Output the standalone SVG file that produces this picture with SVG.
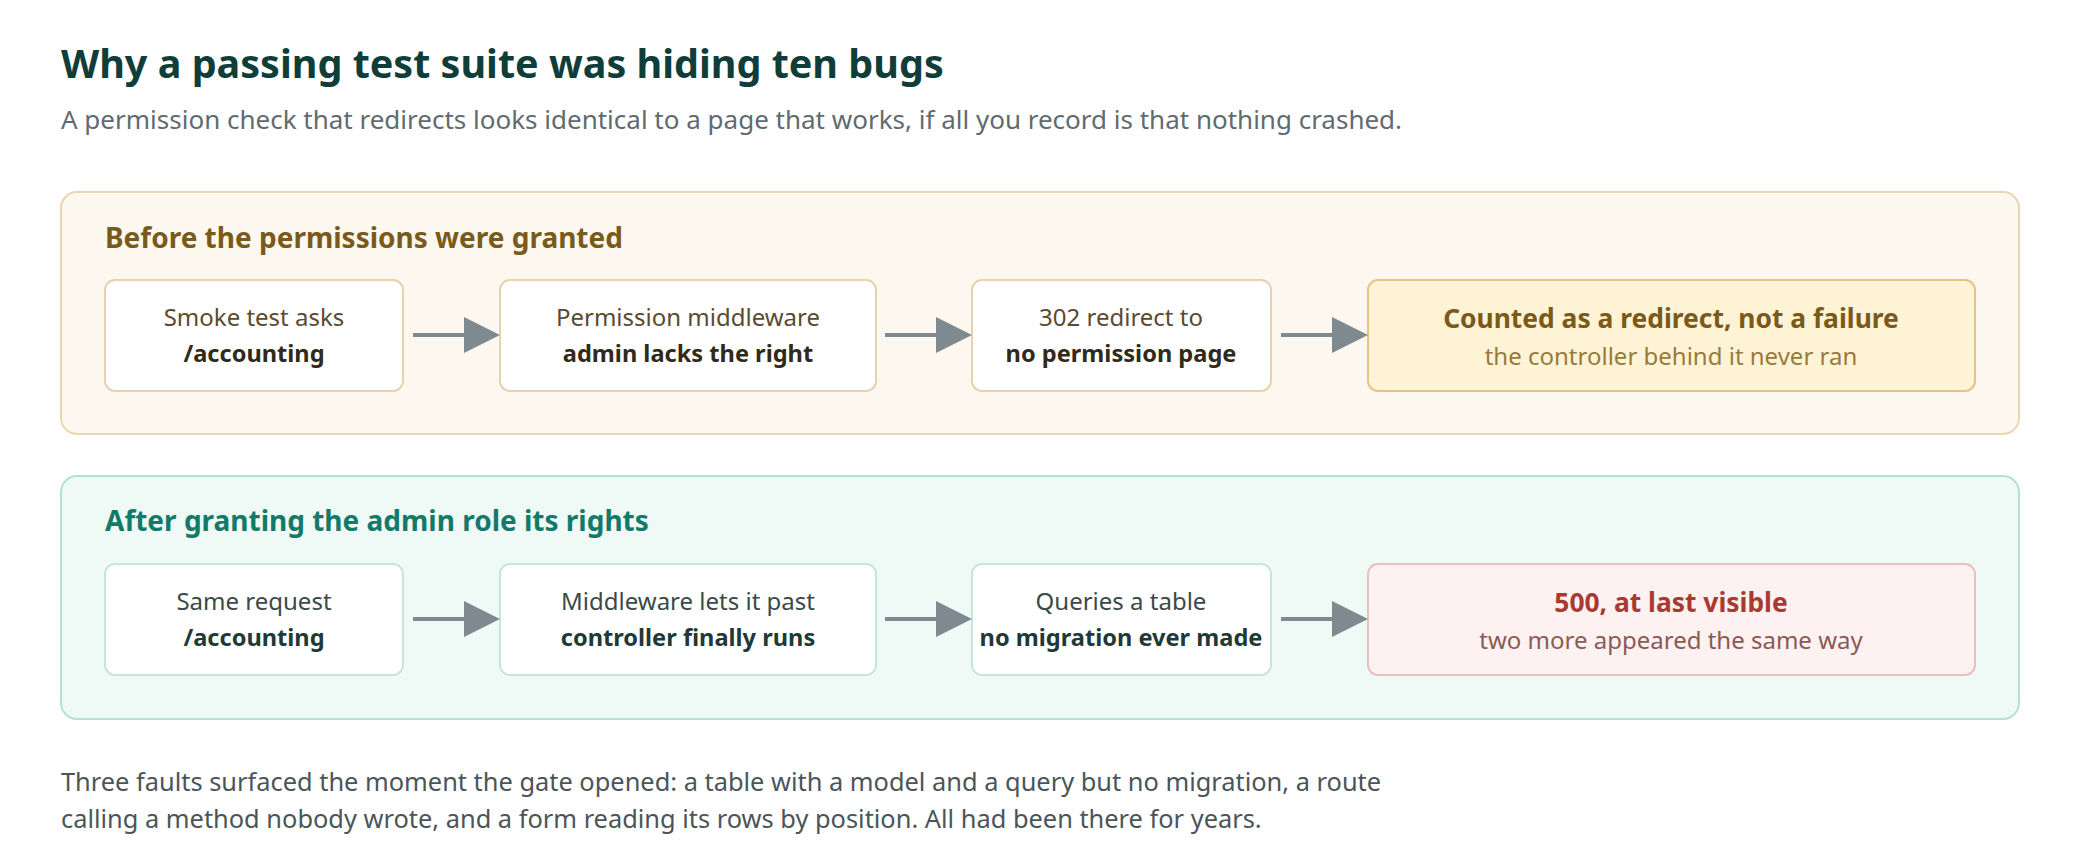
<svg xmlns="http://www.w3.org/2000/svg" width="2080" height="860" viewBox="0 0 2080 860">
<style>
text{font-family:"Noto Sans","Open Sans","DejaVu Sans",sans-serif}
.t{font-size:39.5px;font-weight:700;fill:#0f3d3a}
.s{font-size:26px;fill:#5f6b70}
.h{font-size:28px;font-weight:700}
.l1{font-size:24px;text-anchor:middle}
.l2{font-size:23.6px;font-weight:700;text-anchor:middle}
.a{stroke:#7f8a90;stroke-width:4;fill:none}
.ah{fill:#7f8a90}
</style>
<rect width="2080" height="860" fill="#fff"/>
<text class="t" x="61" y="78">Why a passing test suite was hiding ten bugs</text>
<text class="s" x="61" y="129">A permission check that redirects looks identical to a page that works, if all you record is that nothing crashed.</text>

<g id="panel-before">
<rect x="61" y="192" width="1958" height="242" rx="16" fill="#fdf8ef" stroke="#ead6b0" stroke-width="2"/>
<text class="h" x="105" y="248" fill="#7a5a1a">Before the permissions were granted</text>
</g>
<g id="b1"><rect x="105" y="280" width="298" height="111" rx="10" fill="#fff" stroke="#e6d3ad" stroke-width="2"/>
<text class="l1" x="254" y="326" fill="#5a4a30">Smoke test asks</text><text class="l2" x="254" y="362" fill="#2f2a1a">/accounting</text></g>
<g id="b2"><rect x="500" y="280" width="376" height="111" rx="10" fill="#fff" stroke="#e6d3ad" stroke-width="2"/>
<text class="l1" x="688" y="326" fill="#5a4a30">Permission middleware</text><text class="l2" x="688" y="362" fill="#2f2a1a">admin lacks the right</text></g>
<g id="b3"><rect x="972" y="280" width="299" height="111" rx="10" fill="#fff" stroke="#e6d3ad" stroke-width="2"/>
<text class="l1" x="1121" y="326" fill="#5a4a30">302 redirect to</text><text class="l2" x="1121" y="362" fill="#2f2a1a">no permission page</text></g>
<g id="b4"><rect x="1368" y="280" width="607" height="111" rx="10" fill="#fff3d6" stroke="#e0c682" stroke-width="2"/>
<text class="l2" x="1671" y="328" fill="#7a5a1a" style="font-size:26.4px">Counted as a redirect, not a failure</text><text class="l1" x="1671" y="365" fill="#9a7a3a">the controller behind it never ran</text></g>

<g id="panel-after">
<rect x="61" y="476" width="1958" height="243" rx="16" fill="#eff9f6" stroke="#b0e2d6" stroke-width="2"/>
<text class="h" x="105" y="531" fill="#137a6a">After granting the admin role its rights</text>
</g>
<g id="c1"><rect x="105" y="564" width="298" height="111" rx="10" fill="#fff" stroke="#c4e6dd" stroke-width="2"/>
<text class="l1" x="254" y="610" fill="#3a4a48">Same request</text><text class="l2" x="254" y="646" fill="#1f3a36">/accounting</text></g>
<g id="c2"><rect x="500" y="564" width="376" height="111" rx="10" fill="#fff" stroke="#c4e6dd" stroke-width="2"/>
<text class="l1" x="688" y="610" fill="#3a4a48">Middleware lets it past</text><text class="l2" x="688" y="646" fill="#1f3a36">controller finally runs</text></g>
<g id="c3"><rect x="972" y="564" width="299" height="111" rx="10" fill="#fff" stroke="#c4e6dd" stroke-width="2"/>
<text class="l1" x="1121" y="610" fill="#3a4a48">Queries a table</text><text class="l2" x="1121" y="646" fill="#1f3a36">no migration ever made</text></g>
<g id="c4"><rect x="1368" y="564" width="607" height="111" rx="10" fill="#fdf1f1" stroke="#e8c0c0" stroke-width="2"/>
<text class="l2" x="1671" y="612" fill="#a83a30" style="font-size:26.4px">500, at last visible</text><text class="l1" x="1671" y="649" fill="#8a5a55">two more appeared the same way</text></g>

<g id="connectors">
<line class="a" x1="413" y1="335" x2="466" y2="335"/><polygon class="ah" points="464,317 500,335 464,353"/>
<line class="a" x1="885" y1="335" x2="938" y2="335"/><polygon class="ah" points="936,317 972,335 936,353"/>
<line class="a" x1="1281" y1="335" x2="1334" y2="335"/><polygon class="ah" points="1332,317 1368,335 1332,353"/>
<line class="a" x1="413" y1="619" x2="466" y2="619"/><polygon class="ah" points="464,601 500,619 464,637"/>
<line class="a" x1="885" y1="619" x2="938" y2="619"/><polygon class="ah" points="936,601 972,619 936,637"/>
<line class="a" x1="1281" y1="619" x2="1334" y2="619"/><polygon class="ah" points="1332,601 1368,619 1332,637"/>
</g>

<text class="s" x="61" y="791" style="fill:#4a5558;font-size:25.4px">Three faults surfaced the moment the gate opened: a table with a model and a query but no migration, a route</text>
<text class="s" x="61" y="828" style="fill:#4a5558;font-size:25.4px">calling a method nobody wrote, and a form reading its rows by position. All had been there for years.</text>
</svg>
